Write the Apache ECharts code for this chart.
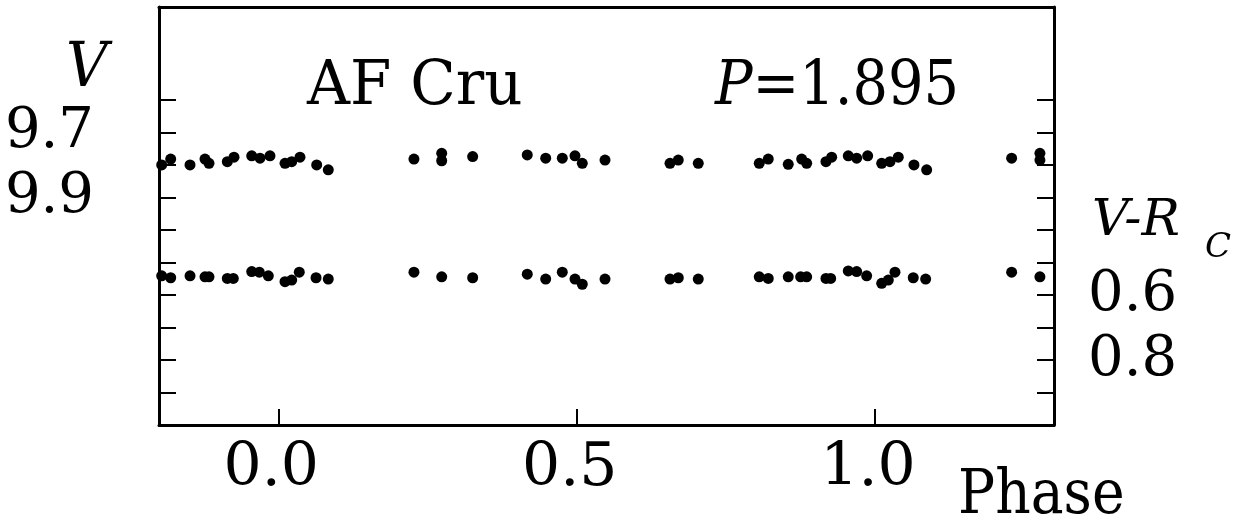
<!DOCTYPE html>
<html>
<head>
<meta charset="utf-8">
<script src="https://cdn.jsdelivr.net/npm/echarts@6/dist/echarts.min.js"></script>
<style>
html,body{margin:0;padding:0;background:#fff;}
#chart{width:1239px;height:531px;}
</style>
</head>
<body>
<div id="chart"></div>
<script>
// ---- data ----
const phaseV = [-0.1955,-0.1804,-0.148,-0.1229,-0.1162,-0.0855,-0.0743,-0.0446,-0.0307,-0.014,
  0.0112,0.0224,0.0363,0.0643,0.0837,0.2273,0.2738,0.2738,0.3257,0.4172,
  0.4481,0.4759,0.4972,0.5094,0.5475,0.6564,0.6703,0.7038,0.806,0.8211,
  0.8546,0.8771,0.8855,0.9178,0.9274,0.9552,0.9693,0.9877,1.0112,1.0251,
  1.039,1.0653,1.0866,1.229,1.2764,1.2764];
const magV = [9.800,9.782,9.800,9.782,9.795,9.790,9.776,9.772,9.779,9.772,
  9.795,9.790,9.776,9.800,9.815,9.782,9.764,9.787,9.774,9.769,
  9.779,9.779,9.772,9.795,9.785,9.795,9.785,9.795,9.795,9.782,
  9.798,9.782,9.795,9.790,9.776,9.772,9.779,9.772,9.795,9.790,
  9.776,9.800,9.815,9.779,9.764,9.785];
const phaseVR = [-0.1955,-0.1804,-0.148,-0.1229,-0.1162,-0.0855,-0.0755,-0.0446,-0.0319,-0.0168,
  0.0112,0.0224,0.0351,0.0632,0.0837,0.2273,0.2738,0.3257,0.4172,0.4481,
  0.4759,0.4972,0.5094,0.5475,0.6564,0.6703,0.7038,0.806,0.8211,0.8546,
  0.8754,0.8855,0.9178,0.9257,0.9552,0.9693,0.986,1.0112,1.0223,1.0335,
  1.0641,1.0849,1.229,1.2764];
const colorVR = [0.541,0.547,0.541,0.544,0.544,0.549,0.549,0.528,0.530,0.541,
  0.559,0.554,0.530,0.547,0.551,0.530,0.544,0.547,0.536,0.551,
  0.530,0.551,0.567,0.551,0.551,0.547,0.551,0.544,0.549,0.544,
  0.544,0.544,0.549,0.549,0.526,0.528,0.541,0.564,0.554,0.530,
  0.547,0.551,0.530,0.544];

const xTicks = [0, 0.5, 1.0];
const xLabels = [0, 0.5, 1.0];
const vTicks = [9.6,9.7,9.8,9.9,10.0,10.1,10.2,10.3,10.4,10.5];
const vLabels = [9.7, 9.9];
const vrTicks = [0.0,0.1,0.2,0.3,0.4,0.5,0.6,0.7,0.8,0.9];
const vrLabels = [0.6, 0.8];

const SERIF = '"DejaVu Serif", serif';
const chart = echarts.init(document.getElementById('chart'), null, {renderer:'canvas'});

const lineStyle = {color:'#000', width:3};
const tickStyle = {color:'#000', width:2};
const xLabelStyle = {color:'#000', fontFamily:SERIF, fontSize:60};
const yLabelStyle = {color:'#000', fontFamily:SERIF, fontSize:56};
const V_RANGE = {min:9.314, max:10.6};
const VR_RANGE = {min:-0.286, max:1.0};

function labelAxis(pos, range, value, margin, pad) {
  return Object.assign({
    type:'value', position:pos, inverse:true,
    axisLine:{show:false}, axisTick:{show:false}, splitLine:{show:false},
    axisLabel:Object.assign({show:true, margin:margin, customValues:[value], showMinLabel:true, showMaxLabel:true,
      formatter:v=>v.toFixed(1), padding:pad}, yLabelStyle)
  }, range);
}

function txt(x, y, text, size, italic, sx, extra) {
  return {type:'text', x:x, y:y, scaleX:sx, style:Object.assign({x:0, y:0, text:text, fontFamily:SERIF, fontSize:size,
    fontStyle:italic ? 'italic' : 'normal', fill:'#000', align:'left', verticalAlign:'middle'}, extra || {})};
}

chart.setOption({
  animation:false,
  backgroundColor:'#fff',
  grid:{left:159, top:7, width:895, height:418, show:false, containLabel:false, outerBoundsMode:'none'},
  xAxis:[{
    type:'value', position:'bottom', min:-0.2, max:1.3,
    axisLine:{show:true, onZero:false, lineStyle:lineStyle},
    axisTick:{show:true, inside:true, length:16, lineStyle:tickStyle, customValues:xTicks},
    axisLabel:Object.assign({show:true, margin:10, lineHeight:68, customValues:xLabels, hideOverlap:false,
      showMinLabel:true, showMaxLabel:true,
      formatter:v=>v.toFixed(1), padding:[0,14,0,0]}, xLabelStyle),
    splitLine:{show:false}
  },{
    type:'value', position:'top', min:-0.2, max:1.3,
    axisLine:{show:true, onZero:false, lineStyle:lineStyle},
    axisTick:{show:false}, axisLabel:{show:false}, splitLine:{show:false}
  }],
  yAxis:[
    Object.assign({
      type:'value', position:'left', inverse:true,
      axisLine:{show:true, onZero:false, lineStyle:lineStyle},
      axisTick:{show:true, inside:true, length:17, lineStyle:tickStyle, customValues:vTicks},
      axisLabel:{show:false}, splitLine:{show:false}
    }, V_RANGE),
    Object.assign({
      type:'value', position:'right', inverse:true,
      axisLine:{show:true, onZero:false, lineStyle:lineStyle},
      axisTick:{show:true, inside:true, length:17, lineStyle:tickStyle, customValues:vrTicks},
      axisLabel:{show:false}, splitLine:{show:false}
    }, VR_RANGE),
    labelAxis('left', V_RANGE, vLabels[0], 65, [26,0,0,0]),
    labelAxis('left', V_RANGE, vLabels[1], 65, [26,0,0,0]),
    labelAxis('right', VR_RANGE, vrLabels[0], 34, [8,0,0,0]),
    labelAxis('right', VR_RANGE, vrLabels[1], 34, [0,0,4,0])
  ],
  series:[{
    name:'V', type:'scatter', xAxisIndex:0, yAxisIndex:0, clip:false,
    symbol:'circle', symbolSize:11, itemStyle:{color:'#000', opacity:1},
    data:phaseV.map((p,i)=>[p, magV[i]])
  },{
    name:'V-Rc', type:'scatter', xAxisIndex:0, yAxisIndex:1, clip:false,
    symbol:'circle', symbolSize:11, itemStyle:{color:'#000', opacity:1},
    data:phaseVR.map((p,i)=>[p, colorVR[i]])
  }],
  graphic:[
    txt(307, 88, 'AF Cru', 62, false, 0.96),
    txt(715, 88, '{i|P}=1.895', 62, false, 0.90, {rich:{i:{fontFamily:SERIF, fontSize:62, fontStyle:'italic', fill:'#000'}}}),
    txt(66, 70, 'V', 62, true, 0.93),
    txt(1092, 222, 'V-R', 51, true, 1.0),
    txt(1205, 248, 'C', 34, true, 1.0),
    txt(958, 497, 'Phase', 62, false, 0.89)
  ]
});
</script>
</body>
</html>
